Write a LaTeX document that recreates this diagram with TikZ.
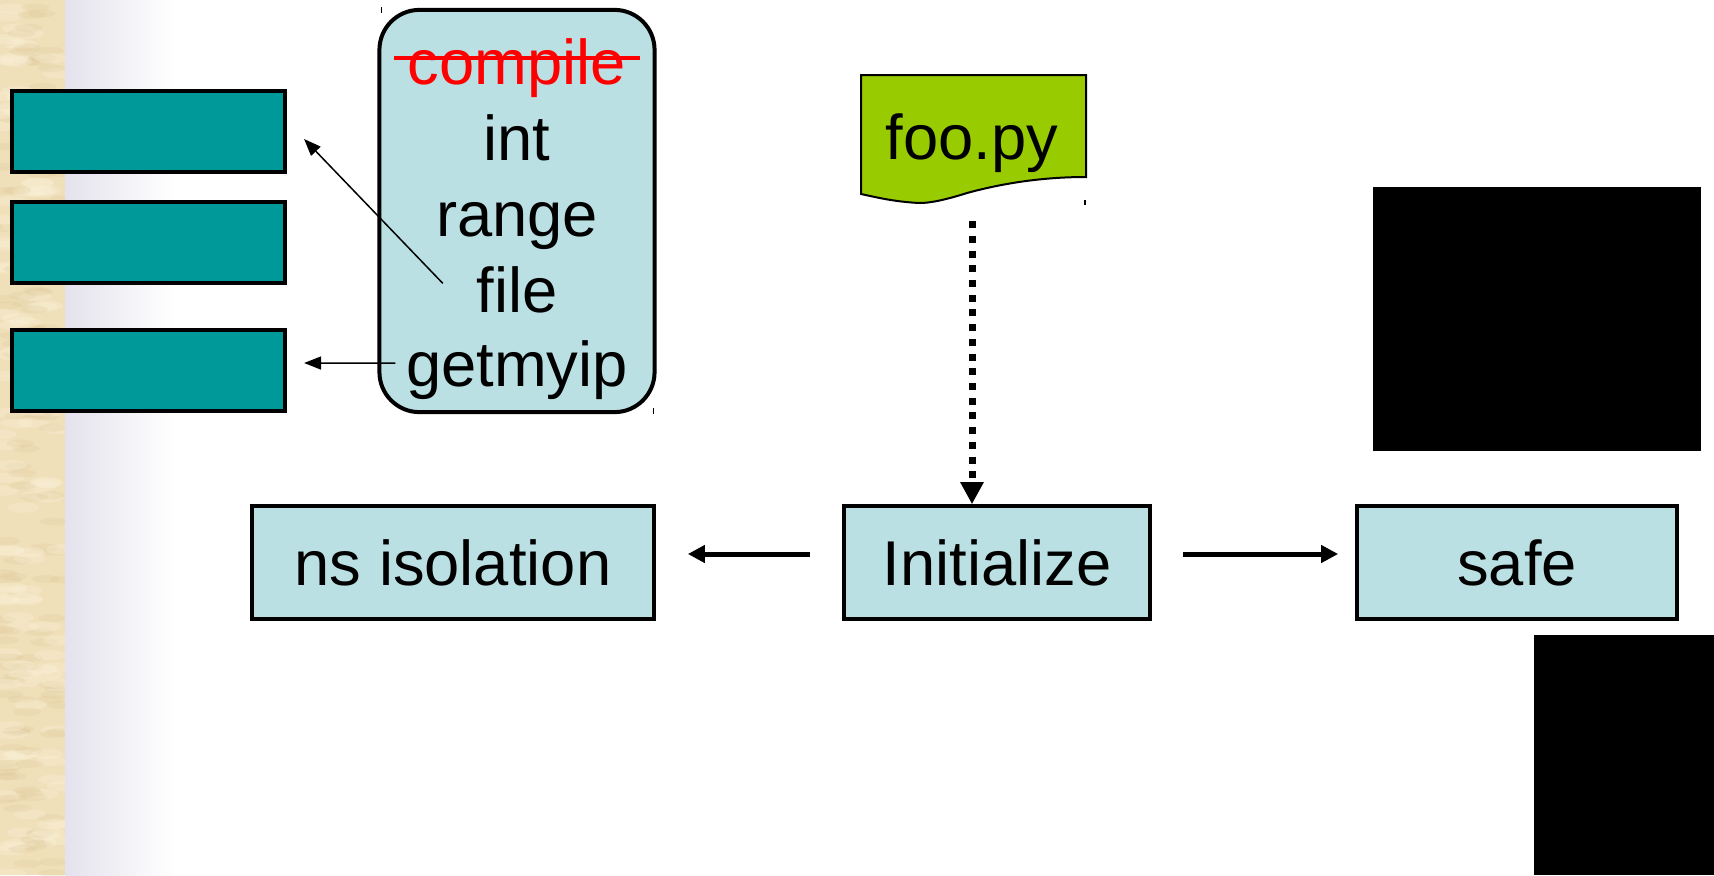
\documentclass[tikz,border=0pt]{standalone}
\usepackage{fontspec}
\setmainfont{Liberation Sans}
\usetikzlibrary{arrows.meta,calc}

\definecolor{tealbox}{RGB}{0,153,153}
\definecolor{paleblue}{RGB}{187,224,227}
\definecolor{limegreen}{RGB}{153,204,0}
\definecolor{parchment}{RGB}{240,224,186}
\definecolor{parchdark}{RGB}{222,200,152}
\definecolor{parchlight}{RGB}{250,241,216}
\definecolor{lavgrey}{RGB}{228,226,236}

\tikzset{
  slot/.style={shape=rectangle,draw=black,fill=tealbox,line width=0.04cm,
    minimum width=2.73cm,minimum height=0.81cm},
  stage/.style={shape=rectangle,draw=black,fill=paleblue,line width=0.035cm,
    minimum height=1.13cm,font=\fontsize{18}{21}\selectfont},
  word/.style={anchor=base,inner sep=0pt,font=\fontsize{18}{21}\selectfont},
  flow/.style={line width=0.05cm,-{Triangle[length=0.17cm,width=0.17cm]}},
  thinflow/.style={line width=0.015cm,-{Triangle[length=0.17cm,width=0.13cm]}},
  dotflow/.style={line width=0.07cm,dash pattern=on 0.07cm off 0.077cm,
    -{Triangle[length=0.22cm,width=0.22cm]}}
}

\begin{document}
\begin{tikzpicture}[x=0.01cm,y=-0.01cm]
    \useasboundingbox (0,0) rectangle (1714,875);

    % parchment strip and the fade next to it
    \begin{scope}
        \clip (0,0) rectangle (65,875);
        \fill[parchment] (0,0) rectangle (65,875);
        \pgfmathsetseed{7}
        \foreach \i in {1,...,140} {
            \pgfmathsetmacro\px{65*rnd}
            \pgfmathsetmacro\py{875*rnd}
            \fill[parchdark,opacity=0.25] (\px,\py) ellipse [x radius=0.14cm,y radius=0.04cm];
            \pgfmathsetmacro\px{65*rnd}
            \pgfmathsetmacro\py{875*rnd}
            \fill[parchlight,opacity=0.35] (\px,\py) ellipse [x radius=0.16cm,y radius=0.05cm];
        }
    \end{scope}
    \shade[left color=lavgrey,right color=white] (65,0) rectangle (175,875);

    % teal slots
    \path (148.5,131.5) node [slot] (slotA) {}
          (148.5,242.5) node [slot] (slotB) {}
          (148.5,370.5) node [slot] (slotC) {};

    % builtins box
    \node [draw,fill=paleblue,rounded corners=0.4cm,line width=0.04cm,
           minimum width=2.75cm,minimum height=4.02cm] (libs) at (517,211) {};
    \path (517,84) node [word,text=red] (cmp) {compile}
          (517,160) node [word] (int) {int}
          (517,236) node [word] (rng) {range}
          (517,312) node [word] (fil) {file}
          (517,386) node [word] (gip) {getmyip};
    \draw[red,line width=0.04cm] ($(cmp.base west)+(-0.13cm,0.26cm)$)
        -- ($(cmp.base east)+(0.13cm,0.26cm)$);
    \draw[line width=0.3pt] (381.5,7) -- (381.5,13)
                            (653.5,408) -- (653.5,414);

    % the script
    \draw[fill=limegreen,line width=0.02cm] (861,75) -- (1086,75) -- (1086,177)
        .. controls (1040,177) and (1000,184) .. (967,193)
        .. controls (945,200) and (930,203) .. (920,203)
        .. controls (895,202) and (875,197) .. (861,194) -- cycle;
    \draw[line width=0.3pt] (1085,200) -- (1085,205);
    \node [inner sep=0pt,minimum width=2.25cm,
           font=\fontsize{18}{21}\selectfont] (foo) at (972,143) {foo.py};

    % stages
    \path (997,562.5) node [stage,minimum width=3.06cm] (init) {Initialize}
          (453,562.5) node [stage,minimum width=4.02cm] (nsiso) {ns isolation}
          (1517,562.5) node [stage,minimum width=3.20cm] (safe) {safe};

    % connectors
    \draw[dotflow] ([yshift=-0.48cm]foo.south) -- (foo.south |- init.north);
    \draw[flow,shorten <=0.32cm,shorten >=0.32cm]
        ([yshift=0.085cm]init.west) -- ([yshift=0.085cm]nsiso.east);
    \draw[flow,shorten <=0.31cm,shorten >=0.17cm]
        ([yshift=0.085cm]init.east) -- ([yshift=0.085cm]safe.west);
    \draw[thinflow] ([shift={(-0.33cm,0.06cm)}]fil.west)
        -- ([shift={(0.17cm,-0.075cm)}]slotA.east);
    \draw[thinflow] ([shift={(-0.10cm,0.065cm)}]gip.west)
        -- ([shift={(0.17cm,0.075cm)}]slotC.east);

    % blacked-out areas
    \fill (1373,187) rectangle (1701,451);
    \fill (1534,635) rectangle (1714,875);
\end{tikzpicture}
\end{document}
